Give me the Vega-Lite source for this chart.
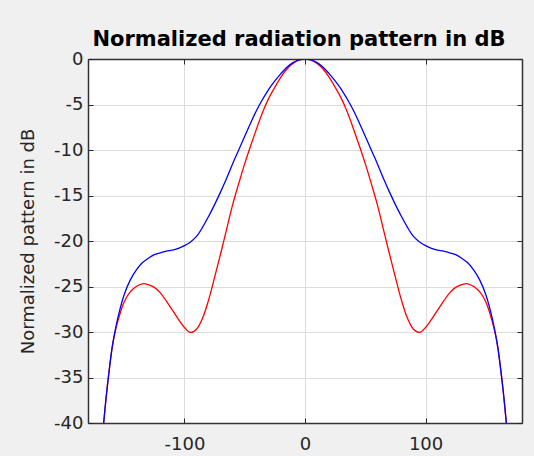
{
  "$schema": "https://vega.github.io/schema/vega-lite/v6.json",
  "width": 434,
  "height": 364,
  "autosize": {"type": "none"},
  "padding": {"left": 88, "top": 59, "right": 12, "bottom": 33},
  "background": "#f0f0f0",
  "title": {
    "text": "Normalized radiation pattern in dB",
    "font": "DejaVu Sans",
    "fontSize": 21,
    "fontWeight": "bold",
    "color": "#000000",
    "offset": 0,
    "anchor": "middle",
    "dx": -6
  },
  "config": {
    "view": {"fill": "white", "stroke": "#262626", "strokeWidth": 1},
    "axis": {
      "labelFont": "DejaVu Sans",
      "labelFontSize": 18,
      "labelColor": "#262626",
      "labelExpr": "'' + datum.value",
      "titleFont": "DejaVu Sans",
      "titleFontSize": 18,
      "titleFontWeight": "normal",
      "titleColor": "#262626",
      "gridColor": "#dcdcdc",
      "gridWidth": 1,
      "domain": true,
      "domainColor": "#333333",
      "domainWidth": 1.5,
      "tickColor": "#262626"
    }
  },
  "datasets": {
    "pattern": [
      {"angle": -167, "dB": -40, "series": "red"},
      {"angle": -165, "dB": -37.3, "series": "red"},
      {"angle": -163, "dB": -34.8, "series": "red"},
      {"angle": -160, "dB": -31.8, "series": "red"},
      {"angle": -158, "dB": -30.3, "series": "red"},
      {"angle": -155, "dB": -28.7, "series": "red"},
      {"angle": -150, "dB": -26.7, "series": "red"},
      {"angle": -145, "dB": -25.6, "series": "red"},
      {"angle": -140, "dB": -25.0, "series": "red"},
      {"angle": -135, "dB": -24.7, "series": "red"},
      {"angle": -130, "dB": -24.8, "series": "red"},
      {"angle": -125, "dB": -25.1, "series": "red"},
      {"angle": -120, "dB": -25.7, "series": "red"},
      {"angle": -115, "dB": -26.6, "series": "red"},
      {"angle": -110, "dB": -27.6, "series": "red"},
      {"angle": -105, "dB": -28.6, "series": "red"},
      {"angle": -100, "dB": -29.5, "series": "red"},
      {"angle": -95, "dB": -30.05, "series": "red"},
      {"angle": -90, "dB": -29.7, "series": "red"},
      {"angle": -85, "dB": -28.5, "series": "red"},
      {"angle": -80, "dB": -26.5, "series": "red"},
      {"angle": -75, "dB": -24.0, "series": "red"},
      {"angle": -70, "dB": -21.4, "series": "red"},
      {"angle": -65, "dB": -18.7, "series": "red"},
      {"angle": -60, "dB": -16.0, "series": "red"},
      {"angle": -55, "dB": -13.7, "series": "red"},
      {"angle": -50, "dB": -11.5, "series": "red"},
      {"angle": -45, "dB": -9.5, "series": "red"},
      {"angle": -40, "dB": -7.6, "series": "red"},
      {"angle": -35, "dB": -5.8, "series": "red"},
      {"angle": -30, "dB": -4.3, "series": "red"},
      {"angle": -25, "dB": -3.1, "series": "red"},
      {"angle": -20, "dB": -2.0, "series": "red"},
      {"angle": -15, "dB": -1.1, "series": "red"},
      {"angle": -10, "dB": -0.5, "series": "red"},
      {"angle": -5, "dB": -0.12, "series": "red"},
      {"angle": 0, "dB": 0, "series": "red"},
      {"angle": 5, "dB": -0.12, "series": "red"},
      {"angle": 10, "dB": -0.5, "series": "red"},
      {"angle": 15, "dB": -1.1, "series": "red"},
      {"angle": 20, "dB": -2.0, "series": "red"},
      {"angle": 25, "dB": -3.1, "series": "red"},
      {"angle": 30, "dB": -4.3, "series": "red"},
      {"angle": 35, "dB": -5.8, "series": "red"},
      {"angle": 40, "dB": -7.6, "series": "red"},
      {"angle": 45, "dB": -9.5, "series": "red"},
      {"angle": 50, "dB": -11.5, "series": "red"},
      {"angle": 55, "dB": -13.7, "series": "red"},
      {"angle": 60, "dB": -16.0, "series": "red"},
      {"angle": 65, "dB": -18.7, "series": "red"},
      {"angle": 70, "dB": -21.4, "series": "red"},
      {"angle": 75, "dB": -24.0, "series": "red"},
      {"angle": 80, "dB": -26.5, "series": "red"},
      {"angle": 85, "dB": -28.5, "series": "red"},
      {"angle": 90, "dB": -29.7, "series": "red"},
      {"angle": 95, "dB": -30.05, "series": "red"},
      {"angle": 100, "dB": -29.5, "series": "red"},
      {"angle": 105, "dB": -28.6, "series": "red"},
      {"angle": 110, "dB": -27.6, "series": "red"},
      {"angle": 115, "dB": -26.6, "series": "red"},
      {"angle": 120, "dB": -25.7, "series": "red"},
      {"angle": 125, "dB": -25.1, "series": "red"},
      {"angle": 130, "dB": -24.8, "series": "red"},
      {"angle": 135, "dB": -24.7, "series": "red"},
      {"angle": 140, "dB": -25.0, "series": "red"},
      {"angle": 145, "dB": -25.6, "series": "red"},
      {"angle": 150, "dB": -26.7, "series": "red"},
      {"angle": 155, "dB": -28.7, "series": "red"},
      {"angle": 158, "dB": -30.3, "series": "red"},
      {"angle": 160, "dB": -31.8, "series": "red"},
      {"angle": 163, "dB": -34.8, "series": "red"},
      {"angle": 165, "dB": -37.3, "series": "red"},
      {"angle": 167, "dB": -40, "series": "red"},
      {"angle": -167, "dB": -40, "series": "blue"},
      {"angle": -165, "dB": -37.2, "series": "blue"},
      {"angle": -163, "dB": -34.9, "series": "blue"},
      {"angle": -160, "dB": -31.7, "series": "blue"},
      {"angle": -158, "dB": -30.2, "series": "blue"},
      {"angle": -155, "dB": -28.3, "series": "blue"},
      {"angle": -150, "dB": -25.9, "series": "blue"},
      {"angle": -145, "dB": -24.3, "series": "blue"},
      {"angle": -140, "dB": -23.2, "series": "blue"},
      {"angle": -135, "dB": -22.4, "series": "blue"},
      {"angle": -130, "dB": -21.9, "series": "blue"},
      {"angle": -125, "dB": -21.5, "series": "blue"},
      {"angle": -120, "dB": -21.3, "series": "blue"},
      {"angle": -115, "dB": -21.1, "series": "blue"},
      {"angle": -110, "dB": -21.0, "series": "blue"},
      {"angle": -105, "dB": -20.8, "series": "blue"},
      {"angle": -100, "dB": -20.5, "series": "blue"},
      {"angle": -95, "dB": -20.1, "series": "blue"},
      {"angle": -90, "dB": -19.5, "series": "blue"},
      {"angle": -85, "dB": -18.5, "series": "blue"},
      {"angle": -80, "dB": -17.3, "series": "blue"},
      {"angle": -75, "dB": -16.0, "series": "blue"},
      {"angle": -70, "dB": -14.6, "series": "blue"},
      {"angle": -65, "dB": -13.1, "series": "blue"},
      {"angle": -60, "dB": -11.5, "series": "blue"},
      {"angle": -55, "dB": -10.0, "series": "blue"},
      {"angle": -50, "dB": -8.5, "series": "blue"},
      {"angle": -45, "dB": -7.0, "series": "blue"},
      {"angle": -40, "dB": -5.6, "series": "blue"},
      {"angle": -35, "dB": -4.4, "series": "blue"},
      {"angle": -30, "dB": -3.3, "series": "blue"},
      {"angle": -25, "dB": -2.4, "series": "blue"},
      {"angle": -20, "dB": -1.6, "series": "blue"},
      {"angle": -15, "dB": -0.9, "series": "blue"},
      {"angle": -10, "dB": -0.4, "series": "blue"},
      {"angle": -5, "dB": -0.1, "series": "blue"},
      {"angle": 0, "dB": 0, "series": "blue"},
      {"angle": 5, "dB": -0.1, "series": "blue"},
      {"angle": 10, "dB": -0.4, "series": "blue"},
      {"angle": 15, "dB": -0.9, "series": "blue"},
      {"angle": 20, "dB": -1.6, "series": "blue"},
      {"angle": 25, "dB": -2.4, "series": "blue"},
      {"angle": 30, "dB": -3.3, "series": "blue"},
      {"angle": 35, "dB": -4.4, "series": "blue"},
      {"angle": 40, "dB": -5.6, "series": "blue"},
      {"angle": 45, "dB": -7.0, "series": "blue"},
      {"angle": 50, "dB": -8.5, "series": "blue"},
      {"angle": 55, "dB": -10.0, "series": "blue"},
      {"angle": 60, "dB": -11.5, "series": "blue"},
      {"angle": 65, "dB": -13.1, "series": "blue"},
      {"angle": 70, "dB": -14.6, "series": "blue"},
      {"angle": 75, "dB": -16.0, "series": "blue"},
      {"angle": 80, "dB": -17.3, "series": "blue"},
      {"angle": 85, "dB": -18.5, "series": "blue"},
      {"angle": 90, "dB": -19.5, "series": "blue"},
      {"angle": 95, "dB": -20.1, "series": "blue"},
      {"angle": 100, "dB": -20.5, "series": "blue"},
      {"angle": 105, "dB": -20.8, "series": "blue"},
      {"angle": 110, "dB": -21.0, "series": "blue"},
      {"angle": 115, "dB": -21.1, "series": "blue"},
      {"angle": 120, "dB": -21.3, "series": "blue"},
      {"angle": 125, "dB": -21.5, "series": "blue"},
      {"angle": 130, "dB": -21.9, "series": "blue"},
      {"angle": 135, "dB": -22.4, "series": "blue"},
      {"angle": 140, "dB": -23.2, "series": "blue"},
      {"angle": 145, "dB": -24.3, "series": "blue"},
      {"angle": 150, "dB": -25.9, "series": "blue"},
      {"angle": 155, "dB": -28.3, "series": "blue"},
      {"angle": 158, "dB": -30.2, "series": "blue"},
      {"angle": 160, "dB": -31.7, "series": "blue"},
      {"angle": 163, "dB": -34.9, "series": "blue"},
      {"angle": 165, "dB": -37.2, "series": "blue"},
      {"angle": 167, "dB": -40, "series": "blue"}
    ]
  },
  "data": {"name": "pattern"},
  "resolve": {"axis": {"x": "independent", "y": "independent"}},
  "layer": [
    {
      "transform": [{"filter": "datum.series === 'red'"}],
      "mark": {"type": "line", "color": "#ff0000", "strokeWidth": 1.3, "interpolate": "catmull-rom", "clip": true},
      "encoding": {
        "x": {
          "field": "angle", "type": "quantitative",
          "scale": {"domain": [-180, 180], "nice": false, "zero": false},
          "axis": {"orient": "bottom", "values": [-100, 0, 100], "title": null, "grid": true, "tickSize": -5, "labelPadding": 17}
        },
        "y": {
          "field": "dB", "type": "quantitative",
          "scale": {"domain": [-40, 0], "nice": false},
          "axis": {"orient": "left", "values": [-40, -35, -30, -25, -20, -15, -10, -5, 0], "title": "Normalized pattern in dB", "grid": true, "tickSize": -5, "labelPadding": 10, "titlePadding": 16}
        }
      }
    },
    {
      "transform": [{"filter": "datum.series === 'blue'"}],
      "mark": {"type": "line", "color": "#0000ff", "strokeWidth": 1.3, "interpolate": "catmull-rom", "clip": true},
      "encoding": {
        "x": {
          "field": "angle", "type": "quantitative",
          "axis": {"orient": "top", "values": [-100, 0, 100], "title": null, "grid": false, "labels": false, "tickSize": -5}
        },
        "y": {
          "field": "dB", "type": "quantitative",
          "axis": {"orient": "right", "values": [-40, -35, -30, -25, -20, -15, -10, -5, 0], "title": null, "grid": false, "labels": false, "tickSize": -5}
        }
      }
    }
  ]
}
